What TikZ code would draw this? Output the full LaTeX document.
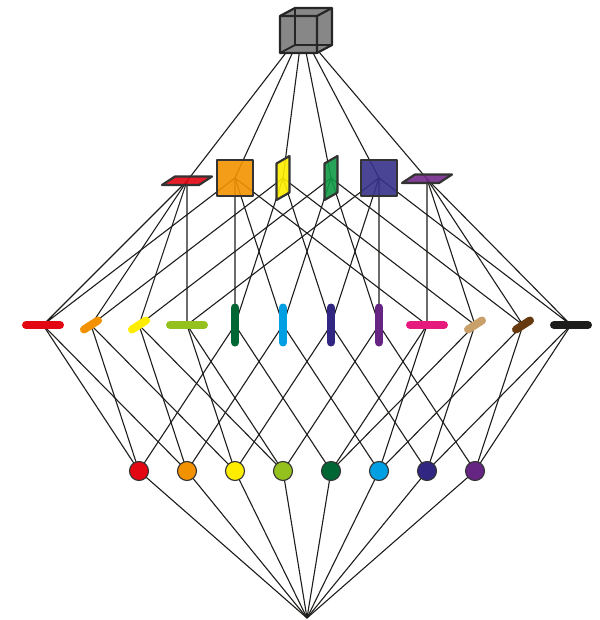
\documentclass[tikz,border=0pt]{standalone}
\usepackage{tikz}
\usetikzlibrary{calc}

\definecolor{cRed}{HTML}{E30613}
\definecolor{cOrange}{HTML}{F39200}
\definecolor{cYellow}{HTML}{FFED00}
\definecolor{cLime}{HTML}{95C11F}
\definecolor{cDkGreen}{HTML}{006633}
\definecolor{cCyan}{HTML}{009FE3}
\definecolor{cNavy}{HTML}{312783}
\definecolor{cPurple}{HTML}{662483}
\definecolor{cMagenta}{HTML}{E6197D}
\definecolor{cTan}{HTML}{C9A06A}
\definecolor{cBrown}{HTML}{663A0E}
\definecolor{cBlack}{HTML}{1D1D1B}
\definecolor{fGreen}{HTML}{0F9A45}
\definecolor{fNavy}{HTML}{36318A}
\definecolor{fPurple}{HTML}{722A8A}
\definecolor{cubeGray}{HTML}{878787}

\begin{document}
\begin{tikzpicture}[x=1pt,y=-1pt,
    link/.style={draw=cBlack, line width=1.1pt},
    bar/.style={line width=8pt, line cap=round},
    face/.style={draw=black!80, line width=2.2pt, line join=round, fill opacity=0.9},
    vertex/.style={draw=black!80, line width=1.1pt}]
    \useasboundingbox (0,0) rectangle (599,620);

    \coordinate (T) at (302,32);
    \coordinate (B) at (307,618);

    \coordinate (F1) at (187,181);
    \coordinate (F2) at (235,178);
    \coordinate (F3) at (283,178);
    \coordinate (F4) at (331,178);
    \coordinate (F5) at (379,178);
    \coordinate (F6) at (427,179);
    \foreach \i in {1,...,12} {\coordinate (E\i) at ({43+48*(\i-1)},325);}
    \foreach \j in {1,...,8} {\coordinate (V\j) at ({139+48*(\j-1)},471);}

    % Verbindungen
    \foreach \f in {1,...,6} {\draw[link] (T) -- (F\f);}
    \foreach \e/\a/\b in {1/1/2, 2/1/3, 3/1/4, 4/1/5, 5/2/3, 6/2/4,
        7/3/5, 8/4/5, 9/6/2, 10/6/3, 11/6/4, 12/6/5}
        {\draw[link] (F\a) -- (E\e) -- (F\b);}
    \foreach \v/\a/\b/\c in {1/1/2/5, 2/1/3/6, 3/4/2/7, 4/4/3/8,
        5/9/10/5, 6/9/11/6, 7/12/10/7, 8/12/11/8}
        {\draw[link] (E\a) -- (V\v) -- (E\b);
         \draw[link] (V\v) -- (E\c);}
    \foreach \v in {1,...,8} {\draw[link] (V\v) -- (B);}

    % Seitenflaechen
    \draw[face, fill=cRed] ($(F1)+(-25,4)$) -- ($(F1)+(-12,-4.5)$) --
        ($(F1)+(25,-4.5)$) -- ($(F1)+(12,4)$) -- cycle;
    \draw[face, fill=cOrange] ($(F2)+(-18,-18)$) rectangle ($(F2)+(18,18)$);
    \draw[face, fill=cYellow] ($(F3)+(-6.5,-14.5)$) -- ($(F3)+(6.5,-22)$) --
        ($(F3)+(6.5,14.5)$) -- ($(F3)+(-6.5,22)$) -- cycle;
    \draw[face, fill=fGreen] ($(F4)+(-6.5,-14.5)$) -- ($(F4)+(6.5,-22)$) --
        ($(F4)+(6.5,14.5)$) -- ($(F4)+(-6.5,22)$) -- cycle;
    \draw[face, fill=fNavy] ($(F5)+(-18,-18)$) rectangle ($(F5)+(18,18)$);
    \draw[face, fill=fPurple] ($(F6)+(-25,4)$) -- ($(F6)+(-12,-4.5)$) --
        ($(F6)+(25,-4.5)$) -- ($(F6)+(12,4)$) -- cycle;

    % Kanten
    \foreach \e/\c in {1/cRed, 4/cLime, 9/cMagenta, 12/cBlack}
        {\draw[bar, \c] ($(E\e)+(-17,0)$) -- ($(E\e)+(17,0)$);}
    \foreach \e/\c in {2/cOrange, 3/cYellow, 10/cTan, 11/cBrown}
        {\draw[bar, \c] ($(E\e)+(-7,4.5)$) -- ($(E\e)+(7,-4.5)$);}
    \foreach \e/\c in {5/cDkGreen, 6/cCyan, 7/cNavy, 8/cPurple}
        {\draw[bar, \c] ($(E\e)+(0,-17.5)$) -- ($(E\e)+(0,17.5)$);}

    % Ecken
    \foreach \v/\c in {1/cRed, 2/cOrange, 3/cYellow, 4/cLime,
        5/cDkGreen, 6/cCyan, 7/cNavy, 8/cPurple}
        {\filldraw[vertex, fill=\c] (V\v) circle (9.5);}

    % Wuerfel
    \filldraw[fill=cubeGray, draw=black!85, line width=2.2pt, line join=round]
        (280,53) -- (280,16) -- (295,8) -- (332,8) -- (332,45) -- (317,53) -- cycle;
    \draw[black!85, line width=2.2pt, line join=round]
        (280,16) -- (317,16) -- (317,53) (317,16) -- (332,8);
    \draw[black!85, line width=1.8pt, line join=round]
        (280,53) -- (295,45) -- (332,45) (295,45) -- (295,8);
\end{tikzpicture}
\end{document}
